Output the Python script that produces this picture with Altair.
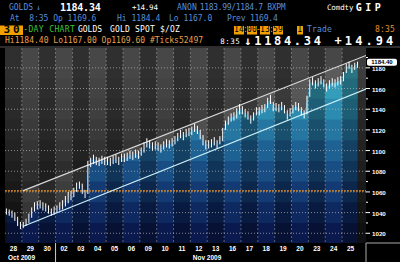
import altair as alt
import pandas as pd

# ---------------- data ----------------
day_labels = ["28", "29", "30", "02", "03", "04", "05", "06", "09", "10", "11",
              "12", "13", "16", "17", "18", "19", "20", "23", "24", "25"]
month_labels = ["Oct 2009", "Nov 2009"]
month_break = 2.5  # between Oct 30 and Nov 02

# six intraday bars per trading day
close = [1041, 1040, 1039, 1036, 1031, 1027,
         1027, 1030, 1034, 1040, 1046, 1047,
         1048, 1046, 1045, 1043, 1040, 1042,
         1043, 1045, 1047, 1050, 1054, 1056,
         1060, 1065, 1067, 1063, 1058, 1086,
         1088, 1092, 1090, 1089, 1091, 1090,
         1090, 1089, 1091, 1092, 1090, 1093,
         1093, 1094, 1096, 1095, 1097, 1096,
         1099, 1103, 1108, 1106, 1104, 1105,
         1104, 1102, 1105, 1107, 1106, 1108,
         1110, 1113, 1116, 1114, 1117, 1118,
         1119, 1122, 1120, 1116, 1110, 1105,
         1106, 1107, 1109, 1106, 1110, 1118,
         1125, 1129, 1132, 1133, 1136, 1140,
         1139, 1136, 1134, 1130, 1133, 1138,
         1138, 1140, 1141, 1146, 1150, 1142,
         1142, 1141, 1143, 1140, 1134, 1137,
         1140, 1143, 1142, 1138, 1135, 1148,
         1165, 1167, 1164, 1166, 1168, 1165,
         1161, 1164, 1166, 1165, 1167, 1168,
         1172, 1180, 1183, 1179, 1182, 1184.34]
high = [1044, 1043, 1042, 1040, 1036, 1031,
        1031, 1034, 1039, 1045, 1050, 1051,
        1052, 1050, 1049, 1047, 1044, 1046,
        1047, 1050, 1052, 1056, 1060, 1061,
        1064, 1069, 1070, 1068, 1062, 1090,
        1093, 1096, 1094, 1093, 1095, 1094,
        1094, 1093, 1095, 1096, 1094, 1097,
        1097, 1098, 1100, 1099, 1101, 1100,
        1103, 1108, 1112, 1110, 1108, 1109,
        1108, 1106, 1109, 1111, 1110, 1112,
        1114, 1117, 1120, 1118, 1121, 1122,
        1123, 1126, 1124, 1120, 1115, 1110,
        1110, 1111, 1113, 1110, 1114, 1122,
        1129, 1133, 1136, 1137, 1141, 1145,
        1143, 1140, 1138, 1134, 1137, 1142,
        1142, 1144, 1145, 1151, 1154, 1147,
        1146, 1145, 1147, 1144, 1139, 1141,
        1144, 1147, 1146, 1142, 1139, 1153,
        1169, 1171, 1168, 1170, 1172, 1169,
        1165, 1168, 1170, 1169, 1171, 1172,
        1176, 1184, 1186, 1183, 1185, 1186]
low = [1038, 1037, 1035, 1032, 1027, 1024,
       1025, 1027, 1030, 1035, 1041, 1043,
       1044, 1042, 1041, 1039, 1037, 1038,
       1040, 1042, 1043, 1046, 1049, 1052,
       1055, 1060, 1063, 1058, 1054, 1058,
       1084, 1087, 1086, 1085, 1087, 1086,
       1086, 1085, 1087, 1088, 1086, 1089,
       1089, 1090, 1092, 1091, 1093, 1092,
       1095, 1098, 1103, 1102, 1100, 1101,
       1100, 1098, 1101, 1103, 1102, 1104,
       1106, 1109, 1112, 1110, 1113, 1114,
       1115, 1118, 1116, 1111, 1105, 1101,
       1102, 1103, 1105, 1102, 1106, 1109,
       1120, 1125, 1128, 1129, 1131, 1135,
       1135, 1132, 1130, 1126, 1129, 1134,
       1134, 1136, 1137, 1141, 1145, 1138,
       1138, 1137, 1139, 1136, 1130, 1133,
       1136, 1139, 1138, 1134, 1131, 1135,
       1152, 1163, 1160, 1162, 1164, 1161,
       1157, 1160, 1162, 1161, 1163, 1164,
       1167, 1175, 1179, 1175, 1178, 1180]

y_ticks = [1020, 1040, 1060, 1080, 1100, 1120, 1140, 1160, 1180]
y_minor = [1030, 1050, 1070, 1090, 1110, 1130, 1150, 1170, 1190]
ref_level = [1061]
last_value = [1184.4]
last_text = ["1184.40"]
chan_t = [0.55, 20.92]
chan_upper = [1061, 1192]
chan_lower = [1026.5, 1159.5]

# ---------------- styling tables (shading of background and area) ----------------
Y_MIN, Y_MAX = 1010.6, 1199.2
bg_lo = [1010.6, 1030, 1050, 1070, 1090, 1110, 1130, 1150, 1170]
bg_col = ["#171717", "#1e1e1e", "#262626", "#2d2d2d", "#343434", "#3a3a3a", "#3f3f3f", "#434343", "#474747"]
ar_lo = [1010.6, 1030, 1050, 1070, 1090, 1110, 1130, 1150, 1170]
ar_col = ["#0a1a4e", "#0e2860", "#133a72", "#184e84", "#1e6294", "#2577a2", "#2c8bb0", "#349dba", "#3dadc3"]

# ---------------- layout ----------------
W, H = 361, 195
PL, PT = 5, 48
PER_DAY = 6
xs = alt.Scale(domain=[-0.5, 20.92], nice=False, zero=False)
ys = alt.Scale(domain=[Y_MIN, Y_MAX], nice=False, zero=False)
one = pd.DataFrame({"a": [0]})

bars = pd.DataFrame({
    "t": [i // PER_DAY - 0.5 + (i % PER_DAY + 0.5) / PER_DAY for i in range(len(close))],
    "close": close, "high": high, "low": low,
})
n_cols = len(day_labels) + 1
cols = pd.DataFrame({
    "a": [i - 0.5 for i in range(n_cols)],
    "b": [i + 0.5 for i in range(n_cols)],
    "dark": [(i % 2 == 0) or (i == n_cols - 1) for i in range(n_cols)],
})
days = pd.DataFrame({"d": list(range(len(day_labels))), "lab": day_labels})
bounds = pd.DataFrame({"b": [i + 0.5 for i in range(len(day_labels) - 1)]})
chan = pd.DataFrame({"t": chan_t, "upper": chan_upper, "lower": chan_lower})
grid = pd.DataFrame({"v": y_ticks, "lab": [str(v) for v in y_ticks]})
minor = pd.DataFrame({"v": y_minor})

X = lambda f: alt.X(f, scale=xs, axis=None)
Y = lambda f: alt.Y(f, scale=ys, axis=None)

# background: grey, darker toward the bottom (each band drawn up to the top)
bg = alt.Chart(pd.DataFrame({"lo": bg_lo, "c": bg_col, "top": [Y_MAX] * len(bg_lo)})).mark_rect().encode(
    y=Y("lo:Q"), y2="top:Q", x=alt.value(0), x2=alt.value(W),
    color=alt.Color("c:N", scale=None, legend=None), order=alt.Order("lo:Q"))

chan_fill = alt.Chart(chan).mark_area(color="white", opacity=0.11, clip=True).encode(
    x=X("t:Q"), y=Y("upper:Q"), y2="lower:Q")

# area: teal at the top, navy at the bottom (stacked shades, each from its floor up to the close)
area_layers = []
for lo, c in zip(ar_lo, ar_col):
    area_layers.append(
        alt.Chart(bars).transform_calculate(
            top=f"max(datum.close, {lo})", bot=f"{lo}"
        ).mark_area(color=c, clip=True).encode(
            x=X("t:Q"), y=Y("top:Q"), y2="bot:Q"))

shade = alt.Chart(cols).transform_filter("datum.dark").mark_rect(
    color="black", opacity=0.33, clip=True).encode(
    x=X("a:Q"), x2="b:Q", y=alt.value(0), y2=alt.value(H))

hgrid = alt.Chart(grid).mark_rule(color="#b8b8b8", strokeDash=[1, 2], opacity=0.7).encode(
    y=Y("v:Q"), x=alt.value(0), x2=alt.value(W))
vgrid = alt.Chart(bounds).mark_rule(color="#b8b8b8", strokeDash=[2, 2], opacity=0.45).encode(
    x=X("b:Q"), y=alt.value(0), y2=alt.value(H))
ref = alt.Chart(pd.DataFrame({"v": ref_level})).mark_rule(
    color="#e8901e", strokeDash=[2, 1], strokeWidth=1.2).encode(
    y=Y("v:Q"), x=alt.value(0), x2=alt.value(W))

up_line = alt.Chart(chan).mark_line(color="#d8d8d8", strokeWidth=1.2, clip=True).encode(
    x=X("t:Q"), y=Y("upper:Q"))
lo_line = alt.Chart(chan).mark_line(color="#c8eef8", strokeWidth=1.2, clip=True).encode(
    x=X("t:Q"), y=Y("lower:Q"))

bar_rules = alt.Chart(bars).mark_rule(color="white", strokeWidth=1, clip=True).encode(
    x=X("t:Q"), y=Y("low:Q"), y2="high:Q")

# right-hand price axis
major_ticks = alt.Chart(grid).mark_rule(color="white").encode(
    y=Y("v:Q"), x=alt.value(W), x2=alt.value(W + 4))
minor_ticks = alt.Chart(minor).mark_rule(color="white").encode(
    y=Y("v:Q"), x=alt.value(W), x2=alt.value(W + 2))
ylabels = alt.Chart(grid).mark_text(
    color="white", font="Liberation Sans", fontWeight="bold", fontSize=6.2,
    align="left", baseline="middle", dy=1).encode(
    y=Y("v:Q"), x=alt.value(W + 6), text="lab:N")

lbl_df = pd.DataFrame({"v": last_value, "txt": last_text})
lbl_box = alt.Chart(lbl_df).transform_calculate(
    top="datum.v + 4.4", bot="datum.v - 2.4").mark_rect(
    color="white", cornerRadius=2).encode(
    x=alt.value(W + 1), x2=alt.value(W + 31), y=Y("top:Q"), y2="bot:Q")
lbl_txt = alt.Chart(lbl_df).mark_text(
    color="black", font="Liberation Sans", fontWeight="bold", fontSize=6,
    align="center", baseline="middle", dy=-1).encode(
    x=alt.value(W + 16), y=Y("v:Q"), text="txt:N")

xlabels = alt.Chart(days).mark_text(
    color="white", font="Liberation Sans", fontWeight="bold", fontSize=6.5,
    baseline="middle").encode(x=X("d:Q"), y=alt.value(H + 5.5), text="lab:N")

msep = alt.Chart(pd.DataFrame({"b": [month_break]})).mark_rule(color="#cccccc").encode(
    x=X("b:Q"), y=alt.value(H), y2=alt.value(H + 19))
frame_v = alt.Chart(one).mark_rule(color="#aaaaaa").encode(
    x=alt.value(W), y=alt.value(H), y2=alt.value(H + 19))
frame_h = alt.Chart(one).mark_rule(color="#aaaaaa").encode(
    x=alt.value(W), x2=alt.value(W + 34), y=alt.value(H))
hdr_line = alt.Chart(one).mark_rule(color="#5a5a5a").encode(
    x=alt.value(-PL), x2=alt.value(W + 34), y=alt.value(-1))


def txt(text, x0, yc, color, size=7, bold=True, align="left", font="Liberation Sans"):
    return alt.Chart(one).mark_text(
        text=text, color=color, fontSize=size, font=font,
        fontWeight="bold" if bold else "normal", align=align, baseline="middle").encode(
        x=alt.value(x0 - PL), y=alt.value(yc - PT))


def spaced(text, x0, yc, pitch, color, size=8, bold=False, font="DejaVu Sans Mono"):
    df = pd.DataFrame({"ch": list(text),
                       "px": [x0 - PL + (k + 0.5) * pitch for k in range(len(text))]})
    df = df[df["ch"] != " "]
    return alt.Chart(df).mark_text(
        color=color, fontSize=size, font=font, fontWeight="bold" if bold else "normal",
        align="center", baseline="middle").encode(
        x=alt.X("px:Q", scale=None, axis=None), y=alt.value(yc - PT), text="ch:N")


def box(x0, x1, y0, y1, color):
    return alt.Chart(one).mark_rect(color=color).encode(
        x=alt.value(x0 - PL), x2=alt.value(x1 - PL), y=alt.value(y0 - PT), y2=alt.value(y1 - PT))


BLUE = "#5b8ed6"
ORANGE = "#e8a050"
AMBER = "#f0a000"
header = [
    spaced("GOLDS", 9, 8.4, 4.8, BLUE),
    spaced("\u2193", 36, 8.4, 4.8, BLUE),
    spaced("1184.34", 60, 8.4, 5.8, "white", size=10, bold=True),
    spaced("+14.94", 132, 8.4, 4.3, "white", size=7.5),
    spaced("ANON", 177, 8.4, 5, BLUE),
    spaced("1183.99/1184.7 BXPM", 200, 8.4, 4.5, BLUE),
    spaced("Comdty", 327, 8.4, 4.4, "white", size=7.5),
    spaced("GIP", 354, 8.4, 9.5, "white", size=10, bold=True),
    spaced("At  8:35 Op 1169.6", 10, 18.8, 4.8, BLUE),
    spaced("Hi 1184.4", 117, 18.8, 4.8, BLUE),
    spaced("Lo 1167.0", 169, 18.8, 4.8, BLUE),
    spaced("Prev 1169.4", 227, 18.8, 4.6, BLUE),
    box(0, 23, 25.5, 35, AMBER),
    spaced("30", 2, 30.3, 9.5, "black", size=11, bold=True),
    spaced("-DAY CHART", 23, 30.3, 5.2, "#3cc43c"),
    spaced("GOLDS", 78, 30.3, 4.8, "white"),
    spaced("GOLD SPOT $/OZ", 110, 30.3, 5, "white"),
    box(234, 244, 26, 34.5, AMBER), spaced("14", 234, 30.3, 5, "black"),
    spaced(":", 244, 30.3, 3, AMBER),
    box(247, 257, 26, 34.5, AMBER), spaced("00", 247, 30.3, 5, "black"),
    spaced("-", 257, 30.3, 3, AMBER),
    box(260, 270, 26, 34.5, AMBER), spaced("13", 260, 30.3, 5, "black"),
    spaced(":", 270, 30.3, 3, AMBER),
    box(273, 283, 26, 34.5, AMBER), spaced("59", 273, 30.3, 5, "black"),
    box(297, 303, 26, 34.5, AMBER), spaced("I", 297, 30.3, 6, "black"),
    spaced("Trade", 307, 30.3, 5, BLUE),
    spaced("8:35", 375, 30.3, 5, "#e09030"),
    spaced("Hi1184.40 Lo1167.00 Op1169.60 #Ticks52497", 5, 41, 4.83, ORANGE),
    spaced("8:35", 220, 41.5, 5, "white", size=7.5),
    spaced("\u21931184.34", 243, 41, 9.9, "white", size=12, bold=True),
    spaced("+14.94", 333, 41, 10.3, "white", size=12, bold=True),
]

months = [
    txt(month_labels[0], 8, 257.5, "white", size=6.5),
    txt(month_labels[1], 207, 257.5, "white", size=6.5, align="center"),
]

chart = alt.layer(
    bg, chan_fill, *area_layers, shade, hgrid, vgrid, ref, up_line, lo_line, bar_rules,
    major_ticks, minor_ticks, ylabels, lbl_box, lbl_txt, xlabels, msep, frame_v, frame_h,
    hdr_line, *months, *header,
).properties(
    width=W, height=H,
    padding={"left": PL, "top": PT, "right": 34, "bottom": 19},
    autosize=alt.AutoSizeParams(type="none"),
).configure(background="black").configure_view(fill="#474747", stroke=None)

chart.save("out.html", embed_options={"renderer": "svg", "actions": False})
